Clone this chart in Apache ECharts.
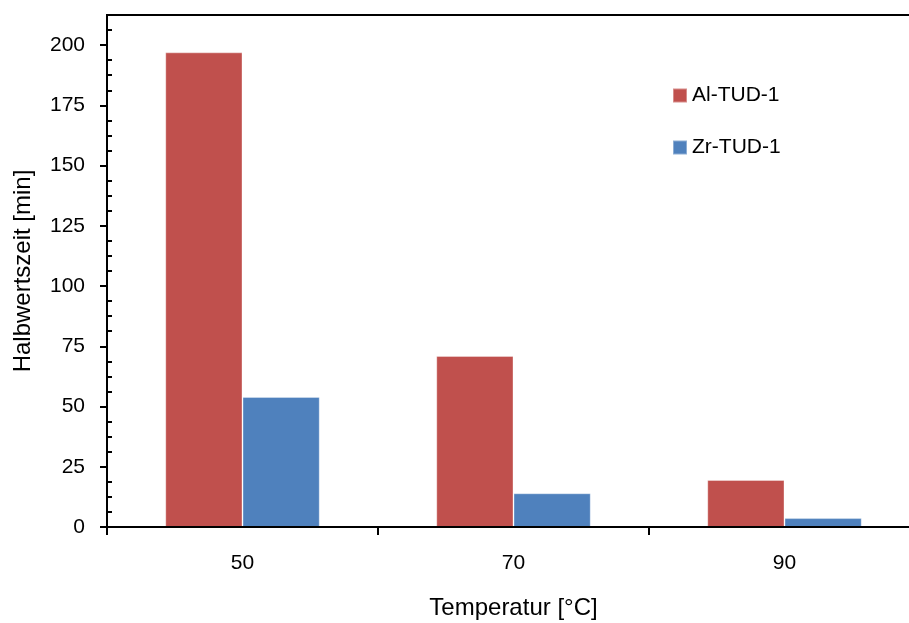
<!DOCTYPE html>
<html>
<head>
<meta charset="utf-8">
<title>Halbwertszeit</title>
<script src="https://cdn.jsdelivr.net/npm/echarts@6/dist/echarts.min.js"></script>
<style>
  html, body { margin: 0; padding: 0; background: #fff; }
  #chart { width: 909px; height: 623px; }
</style>
</head>
<body>
<div id="chart"></div>
<script>
// Temperatures (categories) and half-life times in minutes
const temperatures = ['50', '70', '90'];
const alTud1 = [197, 71, 19.5];
const zrTud1 = [54, 14, 3.7];
const majorTicks = [0, 25, 50, 75, 100, 125, 150, 175, 200];
const minorTicks = [];
for (let v = 0; v <= 212.5; v += 6.25) {
  if (v % 25 !== 0) minorTicks.push(v);
}

const FONT = 'Liberation Sans, Arial, sans-serif';
const chart = echarts.init(document.getElementById('chart'), null, { renderer: 'canvas' });

chart.setOption({
  animation: false,
  backgroundColor: '#fff',
  textStyle: { fontFamily: FONT, color: '#000' },
  grid: {
    left: 107, top: 15, right: -11, bottom: 96,
    outerBoundsMode: 'none',
    containLabel: false,
    show: true, borderColor: '#000', borderWidth: 2, backgroundColor: 'transparent'
  },
  legend: {
    orient: 'vertical',
    left: 672, top: 85,
    padding: 0,
    itemWidth: 14, itemHeight: 14, itemGap: 31,
    icon: 'rect',
    textStyle: { fontFamily: FONT, fontSize: 21, color: '#000', lineHeight: 20 },
    data: ['Al-TUD-1', 'Zr-TUD-1']
  },
  xAxis: {
    type: 'category',
    data: temperatures,
    boundaryGap: true,
    z: 5,
    name: 'Temperatur [°C]',
    nameLocation: 'middle',
    nameGap: 69,
    nameTextStyle: { fontFamily: FONT, fontSize: 24, color: '#000' },
    axisLine: { lineStyle: { color: '#000', width: 2 } },
    axisTick: { show: true, alignWithLabel: false, length: 8, lineStyle: { color: '#000', width: 2 } },
    axisLabel: { fontFamily: FONT, fontSize: 21, color: '#000', margin: 26 },
    splitLine: { show: false }
  },
  yAxis: [
    {
      type: 'value',
      min: 0, max: 212.5, interval: 25,
      z: 5,
      name: 'Halbwertszeit [min]',
      nameLocation: 'middle',
      nameRotate: 90,
      nameGap: 72,
      nameTextStyle: { fontFamily: FONT, fontSize: 24, color: '#000' },
      axisLine: { show: true, lineStyle: { color: '#000', width: 2 } },
      axisTick: { show: true, length: 7, customValues: majorTicks, lineStyle: { color: '#000', width: 2 } },
      axisLabel: { fontFamily: FONT, fontSize: 21, color: '#000', margin: 22, customValues: majorTicks },
      splitLine: { show: false }
    },
    {
      // minor tick marks pointing into the plot area
      type: 'value',
      position: 'left',
      min: 0, max: 212.5, interval: 6.25,
      z: 5,
      axisLine: { show: false },
      axisTick: { show: true, inside: true, length: 5, customValues: minorTicks, lineStyle: { color: '#000', width: 2 } },
      axisLabel: { show: false },
      splitLine: { show: false }
    }
  ],
  series: [
    {
      name: 'Al-TUD-1',
      type: 'bar',
      data: alTud1,
      barGap: '0%',
      barCategoryGap: '43%',
      itemStyle: { color: '#C0504D', borderColor: 'rgba(255,255,255,0.35)', borderWidth: 1 }
    },
    {
      name: 'Zr-TUD-1',
      type: 'bar',
      data: zrTud1,
      barGap: '0%',
      barCategoryGap: '43%',
      itemStyle: { color: '#4F81BD', borderColor: 'rgba(255,255,255,0.35)', borderWidth: 1 }
    }
  ]
});
</script>
</body>
</html>
